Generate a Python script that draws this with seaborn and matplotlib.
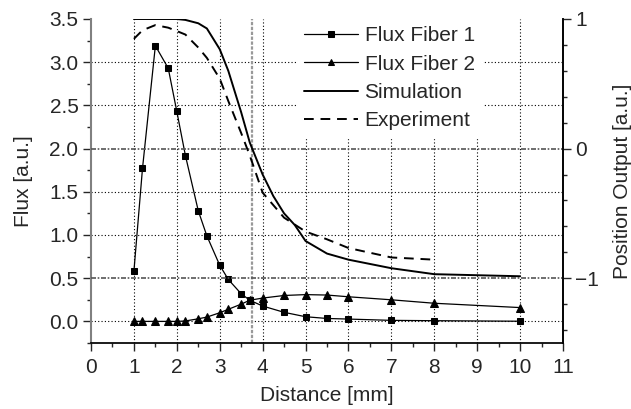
import numpy as np
import pandas as pd
import seaborn as sns
import matplotlib
matplotlib.use("Agg")
import matplotlib.pyplot as plt
from matplotlib.ticker import MultipleLocator, FormatStrFormatter

# distance grid of the flux measurements [mm]
distance = [1.0, 1.2, 1.5, 1.8, 2.0, 2.2, 2.5, 2.7, 3.0, 3.2, 3.5, 3.7,
            4.0, 4.5, 5.0, 5.5, 6.0, 7.0, 8.0, 10.0]
flux_fiber1 = [0.58, 1.77, 3.19, 2.93, 2.43, 1.92, 1.28, 0.99, 0.65, 0.485, 0.32, 0.245,
               0.178, 0.105, 0.054, 0.034, 0.027, 0.012, 0.008, 0.002]
flux_fiber2 = [0.0, 0.0, 0.0, 0.0, 0.0, 0.005, 0.03, 0.05, 0.10, 0.14, 0.20, 0.245,
               0.27, 0.30, 0.31, 0.305, 0.285, 0.25, 0.21, 0.16]

# position output (right axis)
sim_x = [1.0, 2.0, 2.2, 2.5, 2.7, 3.0, 3.2, 3.5, 3.7, 4.0, 4.25, 4.5, 4.75,
         5.0, 5.5, 6.0, 7.0, 8.0, 10.0]
sim_y = [1.0, 1.0, 0.993, 0.967, 0.927, 0.767, 0.60, 0.28, 0.047, -0.20, -0.367, -0.50, -0.59,
         -0.713, -0.81, -0.857, -0.923, -0.969, -0.985]
exp_x = [1.0, 1.2, 1.5, 1.8, 2.0, 2.2, 2.5, 2.7, 3.0, 3.2, 3.5, 3.7,
         4.0, 4.5, 5.0, 5.5, 6.0, 7.0, 8.0]
exp_y = [0.847, 0.913, 0.953, 0.933, 0.907, 0.88, 0.78, 0.70, 0.54, 0.367, 0.12, -0.053,
         -0.34, -0.533, -0.64, -0.70, -0.767, -0.84, -0.857]
zero_crossing = 3.75

df = pd.DataFrame({"d": distance, "f1": flux_fiber1, "f2": flux_fiber2})

sns.set_theme(style="ticks")
plt.rcParams["font.family"] = ["Liberation Sans", "DejaVu Sans"]
plt.rcParams["font.size"] = 15

fig = plt.figure(figsize=(6.31, 4.09), dpi=100)
ax = fig.add_axes([91 / 631, 1 - 343 / 409, 472 / 631, 324 / 409])
ax.set_xlim(0, 11)
ax.set_ylim(-0.25, 3.5)

# grid
for xv in range(1, 11):
    ax.axvline(xv, color="black", lw=0.8, ls=(0, (1, 2)), zorder=0)
for yv in [0.0, 1.0, 1.5, 2.5, 3.0]:
    ax.axhline(yv, color="black", lw=0.8, ls=(0, (1, 2)), zorder=0)
ax.axvline(zero_crossing, color="#999999", lw=1.6, ls=(0, (1.5, 0.7)), zorder=0)

sns.lineplot(data=df, x="d", y="f1", ax=ax, color="black", lw=0.9, marker="s",
             markersize=5, markeredgecolor="black", label="Flux Fiber 1", legend=False)
sns.lineplot(data=df, x="d", y="f2", ax=ax, color="black", lw=0.9, marker="^",
             markersize=5.5, markeredgecolor="black", label="Flux Fiber 2", legend=False)

ax2 = ax.twinx()
ax2.set_ylim(-1.5, 1.0)
for yv in [0.0, -1.0]:
    ax2.axhline(yv, color="#555555", lw=1.2, ls=(0, (3, 1, 1, 1)), zorder=0)
sns.lineplot(x=sim_x, y=sim_y, ax=ax2, color="black", lw=1.4, label="Simulation", legend=False)
sns.lineplot(x=exp_x, y=exp_y, ax=ax2, color="black", lw=1.4, ls=(0, (5, 3.5)),
             label="Experiment", legend=False)

# axes styling
ax.set_xlabel("Distance [mm]", fontsize=15, labelpad=6)
ax.set_ylabel("Flux [a.u.]", fontsize=15, labelpad=12)
ax2.set_ylabel("Position Output [a.u.]", fontsize=15, labelpad=10)
ax.xaxis.set_major_locator(MultipleLocator(1))
ax.xaxis.set_minor_locator(MultipleLocator(0.5))
ax.yaxis.set_major_locator(MultipleLocator(0.5))
ax.yaxis.set_minor_locator(MultipleLocator(0.25))
ax.yaxis.set_major_formatter(FormatStrFormatter("%.1f"))
ax2.yaxis.set_major_locator(MultipleLocator(1))
ax2.yaxis.set_minor_locator(MultipleLocator(0.2))
for a in (ax, ax2):
    a.tick_params(which="major", direction="out", length=6, width=1, labelsize=15, pad=3)
    a.tick_params(which="minor", direction="out", length=3, width=1)
    a.spines["top"].set_visible(False)
    a.grid(False)
ax.tick_params(axis="x", which="major", pad=5)
ax.spines["left"].set_color("#808080")
ax.spines["left"].set_linewidth(1.5)
ax.spines["bottom"].set_color("black")
ax2.spines["left"].set_visible(False)
ax2.spines["bottom"].set_visible(False)
ax2.spines["right"].set_color("black")

h1, l1 = ax.get_legend_handles_labels()
h2, l2 = ax2.get_legend_handles_labels()
leg = ax2.legend(h1 + h2, l1 + l2, loc="upper left", bbox_to_anchor=(0.436, 1.0),
                 frameon=True, fancybox=False, framealpha=1, edgecolor="white",
                 fontsize=15, handlelength=2.6, handletextpad=0.3, labelspacing=0.45,
                 borderpad=0.35, borderaxespad=0)
for lh in leg.get_lines()[:2]:
    lh.set_markersize(4)

fig.savefig("out.png", dpi=100)
